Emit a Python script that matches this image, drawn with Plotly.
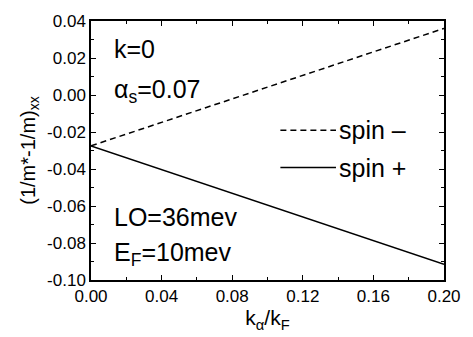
import plotly.graph_objects as go

# data
k_ratio = [0.0, 0.2]
spin_minus = [-0.0275, 0.0360]
spin_plus = [-0.0275, -0.0915]
x_ticks = [0.00, 0.04, 0.08, 0.12, 0.16, 0.20]
y_ticks = [0.04, 0.02, 0.00, -0.02, -0.04, -0.06, -0.08, -0.10]

FONT = "Arial, Liberation Sans, sans-serif"

fig = go.Figure()
fig.add_trace(go.Scatter(x=k_ratio, y=spin_minus, mode="lines", name="spin \u2013",
                         line=dict(color="black", width=1.5, dash="6px,4px"), showlegend=False))
fig.add_trace(go.Scatter(x=k_ratio, y=spin_plus, mode="lines", name="spin +",
                         line=dict(color="black", width=1.5), showlegend=False))

axis_common = dict(showline=True, linecolor="black", linewidth=1.5, mirror="allticks",
                   ticks="inside", ticklen=5, tickwidth=1.2, tickcolor="black",
                   showgrid=False, zeroline=False,
                   tickfont=dict(family=FONT, size=17, color="black"))

fig.update_xaxes(range=[0, 0.2], tickvals=x_ticks, ticktext=[f"{v:.2f}" for v in x_ticks],
                 minor=dict(dtick=0.02, ticks="inside", ticklen=3, tickcolor="black", tickwidth=1.2),
                 title=dict(text="k<sub>\u03b1</sub>/k<sub>F</sub>", font=dict(family=FONT, size=21, color="black"),
                            standoff=4),
                 **axis_common)
fig.update_yaxes(range=[-0.10, 0.04], tickvals=y_ticks, ticktext=[f"{v:.2f}" for v in y_ticks],
                 minor=dict(dtick=0.01, ticks="inside", ticklen=3, tickcolor="black", tickwidth=1.2),
                 title=dict(text="(1/m*-1/m)<sub>xx</sub>", font=dict(family=FONT, size=20, color="black"),
                            standoff=6),
                 **axis_common)

ann_font = dict(family=FONT, size=25, color="black")
notes = [("k=0", 0.059, 0.89), ("\u03b1<sub>s</sub>=0.07", 0.059, 0.728),
         ("LO=36mev", 0.059, 0.243), ("E<sub>F</sub>=10mev", 0.059, 0.10)]
for txt, xp, yp in notes:
    fig.add_annotation(text=txt, x=xp, y=yp, xref="paper", yref="paper",
                       xanchor="left", yanchor="middle", showarrow=False, font=ann_font)

# legend drawn manually
legend_items = [("spin \u2013", "6px,4px", 0.578), ("spin +", "solid", 0.434)]
for txt, dash, yp in legend_items:
    fig.add_shape(type="line", xref="paper", yref="paper", x0=0.5365, x1=0.694, y0=yp, y1=yp,
                  line=dict(color="black", width=1.5, dash=dash))
    fig.add_annotation(text=txt, x=0.697, y=yp, xref="paper", yref="paper",
                       xanchor="left", yanchor="middle", showarrow=False, font=ann_font)

fig.update_layout(width=473, height=337, margin=dict(l=91, r=26, t=15, b=57),
                  paper_bgcolor="white", plot_bgcolor="white", showlegend=False)

fig.write_html("out.html", config={"displayModeBar": False},
               post_script="document.body.style.margin='0';document.body.style.overflow='hidden';")
